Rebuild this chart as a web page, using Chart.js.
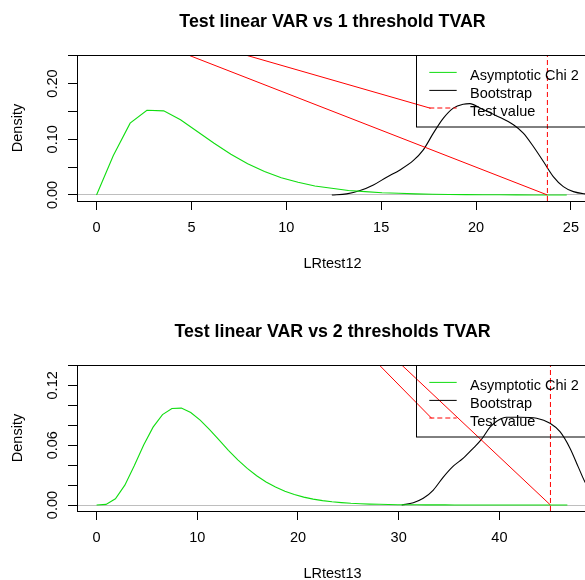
<!DOCTYPE html>
<html>
<head>
<meta charset="utf-8">
<script src="https://cdn.jsdelivr.net/npm/chart.js@4/dist/chart.umd.min.js"></script>
<style>
  html, body { margin: 0; padding: 0; background: #ffffff; overflow: hidden; width: 585px; height: 580px; }
  #wrap { position: relative; width: 600px; height: 580px; }
  canvas { display: block; }
</style>
</head>
<body>
<div id="wrap">
  <canvas id="c1" width="600" height="290"></canvas>
  <canvas id="c2" width="600" height="290"></canvas>
</div>
<script>
// ---------------- DATA ----------------
const yAxisLabel = 'Density';
const legendLabels = ['Asymptotic Chi 2', 'Bootstrap', 'Test value'];

// Panel 1
const title1 = 'Test linear VAR vs 1 threshold TVAR';
const xLabel1 = 'LRtest12';
const chiX1 = [0, 0.885, 1.77, 2.655, 3.54, 4.425, 5.31, 6.195, 7.08, 7.965, 8.85, 9.735, 10.62, 11.505, 12.39, 13.275, 14.16, 15.045, 15.93, 16.815, 17.70, 18.585, 19.47, 20.355, 21.24, 22.125, 23.01, 23.895, 24.78];
const chiY1 = [0, 0.071, 0.129, 0.152, 0.151, 0.135, 0.114, 0.093, 0.073, 0.056, 0.042, 0.031, 0.023, 0.016, 0.012, 0.008, 0.006, 0.004, 0.003, 0.002, 0.0013, 0.0009, 0.0006, 0.0004, 0.0003, 0.0002, 0.0001, 0.0001, 0.0001];
const bootX1 = [12.4, 13.18, 13.89, 14.59, 15.29, 15.99, 16.70, 17.22, 17.75, 18.28, 18.80, 19.33, 19.68, 20.21, 21.09, 21.97, 22.49, 23.02, 23.55, 24.07, 24.60, 25.13, 25.75, 26.2];
const bootY1 = [0, 0.002, 0.008, 0.018, 0.032, 0.045, 0.062, 0.081, 0.111, 0.138, 0.156, 0.163, 0.164, 0.156, 0.142, 0.126, 0.111, 0.087, 0.060, 0.033, 0.015, 0.006, 0.002, 0.001];
const testValue1 = 23.76;
const redAX1 = [4.83, 23.76];
const redAY1 = [0.2513, 0];
const redBX1 = [7.85, 17.6];
const redBY1 = [0.2513, 0.1557];
const xTicks1 = [0, 5, 10, 15, 20, 25];
const yTicks1 = [0, 0.05, 0.10, 0.15, 0.20, 0.25];
const yTickLabels1 = ['0.00', '', '0.10', '', '0.20', ''];
const xRange1 = [-1.03, 25.9];
const yRange1 = [-0.0108, 0.2513];

// Panel 2
const title2 = 'Test linear VAR vs 2 thresholds TVAR';
const xLabel2 = 'LRtest13';
const chiX2 = [0, 0.935, 1.87, 2.805, 3.74, 4.675, 5.61, 6.545, 7.48, 8.415, 9.35, 10.285, 11.22, 12.155, 13.09, 14.025, 14.96, 15.895, 16.83, 17.765, 18.7, 19.635, 20.57, 21.505, 22.44, 23.375, 24.31, 25.245, 26.18, 27.115, 28.05, 28.985, 29.92, 30.855, 31.79, 32.725, 33.66, 34.595, 35.53, 36.465, 37.4, 38.335, 39.27, 40.205, 41.14, 42.075, 43.01, 43.945, 44.88, 45.815, 46.75];
const chiY2 = [0, 0.0006, 0.0063, 0.0199, 0.0393, 0.0601, 0.0781, 0.0906, 0.0968, 0.0972, 0.0928, 0.0851, 0.0755, 0.0652, 0.0549, 0.0453, 0.0367, 0.0293, 0.0231, 0.0180, 0.0138, 0.0105, 0.0079, 0.0059, 0.0044, 0.0032, 0.0024, 0.0017, 0.0013, 0.0009, 0.0007, 0.0005, 0.0003, 0.0002, 0.0002, 0.0001, 0.0001, 0.0001, 0, 0, 0, 0, 0, 0, 0, 0, 0, 0, 0, 0, 0];
const bootX2 = [30.3, 31.45, 32.44, 33.44, 34.43, 35.42, 36.42, 37.41, 38.24, 39.07, 39.73, 40.72, 42.05, 43.70, 45.03, 46.02, 47.01, 47.84, 48.5, 49.2];
const bootY2 = [0, 0.0023, 0.0067, 0.015, 0.028, 0.039, 0.047, 0.057, 0.066, 0.078, 0.084, 0.088, 0.088, 0.087, 0.082, 0.0735, 0.057, 0.038, 0.023, 0.012];
const testValue2 = 45.07;
const redAX2 = [30.30, 45.07];
const redAY2 = [0.1404, 0];
const redBX2 = [28.07, 33.28];
const redBY2 = [0.1404, 0.0869];
const xTicks2 = [0, 10, 20, 30, 40];
const yTicks2 = [0, 0.02, 0.04, 0.06, 0.08, 0.10, 0.12, 0.14];
const yTickLabels2 = ['0.00', '', '', '0.06', '', '', '0.12', ''];
const xRange2 = [-1.946, 48.8];
const yRange2 = [-0.006, 0.1404];

// ---------------- RENDER ----------------
const FONT = '"Liberation Sans", Arial, Helvetica, sans-serif';
const GREEN = '#10dd10';
const RED = '#ff0000';

Chart.defaults.font.family = FONT;
Chart.defaults.color = '#000';

function zip(xs, ys) { return xs.map((x, i) => ({ x: x, y: ys[i] })); }

const panelPlugin = {
  id: 'panelDecor',
  afterDatasetsDraw(chart, args, o) {
    const { ctx, chartArea: a, scales } = chart;
    const ys = scales.y;
    ctx.save();
    // top + right frame
    ctx.strokeStyle = '#000';
    ctx.lineWidth = 1;
    ctx.setLineDash([]);
    ctx.beginPath();
    ctx.moveTo(Math.round(a.left) + 0.5, Math.round(a.top) + 0.5);
    ctx.lineTo(Math.round(a.right) + 0.5, Math.round(a.top) + 0.5);
    ctx.lineTo(Math.round(a.right) + 0.5, Math.round(a.bottom) + 0.5);
    ctx.stroke();

    // legend box
    const lx = Math.round(a.right - 172) + 0.5;
    const ly = Math.round(a.top) + 0.5;
    ctx.strokeRect(lx, ly, a.right - lx, 71.5);
    const sampleY = [17.4, 35.4, 53.0];
    const textY = [24.9, 42.7, 60.5];
    const cols = [GREEN, '#000', RED];
    ctx.font = '14.5px ' + FONT;
    ctx.textAlign = 'left';
    ctx.textBaseline = 'alphabetic';
    for (let i = 0; i < 3; i++) {
      ctx.strokeStyle = cols[i];
      ctx.setLineDash(i === 2 ? [5, 3] : []);
      ctx.beginPath();
      ctx.moveTo(a.right - 158.7, a.top + sampleY[i]);
      ctx.lineTo(a.right - 131.3, a.top + sampleY[i]);
      ctx.stroke();
      ctx.fillStyle = '#000';
      ctx.fillText(o.legend[i], a.right - 118, a.top + textY[i]);
    }
    ctx.setLineDash([]);

    // y tick labels (rotated, R style)
    ctx.fillStyle = '#000';
    ctx.font = '14.5px ' + FONT;
    o.yTicks.forEach((v, i) => {
      const lab = o.yLabels[i];
      if (!lab) return;
      const py = ys.getPixelForValue(v);
      ctx.save();
      ctx.translate(57, py);
      ctx.rotate(-Math.PI / 2);
      ctx.textAlign = 'center';
      ctx.textBaseline = 'alphabetic';
      ctx.fillText(lab, 0, 0);
      ctx.restore();
    });

    // y axis title
    ctx.save();
    ctx.translate(21.5, (a.top + a.bottom) / 2);
    ctx.rotate(-Math.PI / 2);
    ctx.textAlign = 'center';
    ctx.textBaseline = 'alphabetic';
    ctx.fillText(o.yTitle, 0, 0);
    ctx.restore();

    // main title
    const cx = (a.left + a.right) / 2;
    ctx.textAlign = 'center';
    ctx.textBaseline = 'alphabetic';
    ctx.font = 'bold 17.8px ' + FONT;
    ctx.fillText(o.title, cx, a.top - 28.3);

    // x axis title
    ctx.font = '14.5px ' + FONT;
    ctx.fillText(o.xTitle, cx, a.bottom + 67.3);
    ctx.restore();
  }
};

function makePanel(id, p) {
  const datasets = [
    { label: 'redA', data: zip(p.redAX, p.redAY), borderColor: RED, borderWidth: 1, order: 0 },
    { label: 'redB', data: zip(p.redBX, p.redBY), borderColor: RED, borderWidth: 1, order: 0 },
    { label: 'test', data: [{ x: p.test, y: p.yRange[0] }, { x: p.test, y: p.yRange[1] }], borderColor: RED, borderWidth: 1, borderDash: [5, 3], order: 1 },
    { label: p.legend[0], data: zip(p.chiX, p.chiY), borderColor: GREEN, borderWidth: 1.1, tension: 0, order: 2 },
    { label: p.legend[1], data: zip(p.bootX, p.bootY), borderColor: '#000', borderWidth: 1.1, cubicInterpolationMode: 'monotone', order: 4 }
  ];
  return new Chart(document.getElementById(id), {
    type: 'line',
    data: { datasets: datasets },
    options: {
      responsive: false,
      animation: false,
      devicePixelRatio: 1,
      elements: { point: { radius: 0 }, line: { fill: false } },
      layout: { padding: { top: p.top, right: 12, left: 0, bottom: 0 } },
      plugins: {
        legend: { display: false },
        tooltip: { enabled: false },
        title: { display: false },
        panelDecor: {
          legend: p.legend, yTicks: p.yTicks, yLabels: p.yLabels,
          yTitle: p.yTitle, title: p.title, xTitle: p.xTitle
        }
      },
      scales: {
        x: {
          type: 'linear',
          min: p.xRange[0], max: p.xRange[1],
          afterBuildTicks: (s) => { s.ticks = p.xTicks.map(v => ({ value: v })); },
          afterFit: (s) => { s.height = p.xHeight; },
          ticks: {
            autoSkip: false, maxRotation: 0, minRotation: 0,
            padding: 9.5, color: '#000',
            font: { size: 14.5, family: FONT },
            callback: (v) => String(v)
          },
          grid: { display: true, drawOnChartArea: false, drawTicks: true, tickLength: 9, color: '#000', tickColor: '#000', lineWidth: 1 },
          border: { display: true, color: '#000', width: 1 }
        },
        y: {
          type: 'linear',
          min: p.yRange[0], max: p.yRange[1],
          afterBuildTicks: (s) => { s.ticks = p.yTicks.map(v => ({ value: v })); },
          afterFit: (s) => { s.width = 77; },
          ticks: { display: false },
          grid: {
            display: true, drawOnChartArea: true, drawTicks: true, tickLength: 9,
            color: (c) => (c.tick && c.tick.value === 0) ? '#bebebe' : 'rgba(0,0,0,0)',
            tickColor: '#000', lineWidth: 1
          },
          border: { display: true, color: '#000', width: 1 }
        }
      }
    },
    plugins: [panelPlugin]
  });
}

makePanel('c1', {
  title: title1, xTitle: xLabel1, yTitle: yAxisLabel, legend: legendLabels,
  chiX: chiX1, chiY: chiY1, bootX: bootX1, bootY: bootY1,
  test: testValue1, redAX: redAX1, redAY: redAY1, redBX: redBX1, redBY: redBY1,
  xTicks: xTicks1, yTicks: yTicks1, yLabels: yTickLabels1,
  xRange: xRange1, yRange: yRange1, top: 55, xHeight: 89
});

makePanel('c2', {
  title: title2, xTitle: xLabel2, yTitle: yAxisLabel, legend: legendLabels,
  chiX: chiX2, chiY: chiY2, bootX: bootX2, bootY: bootY2,
  test: testValue2, redAX: redAX2, redAY: redAY2, redBX: redBX2, redBY: redBY2,
  xTicks: xTicks2, yTicks: yTicks2, yLabels: yTickLabels2,
  xRange: xRange2, yRange: yRange2, top: 75, xHeight: 69
});
</script>
</body>
</html>
